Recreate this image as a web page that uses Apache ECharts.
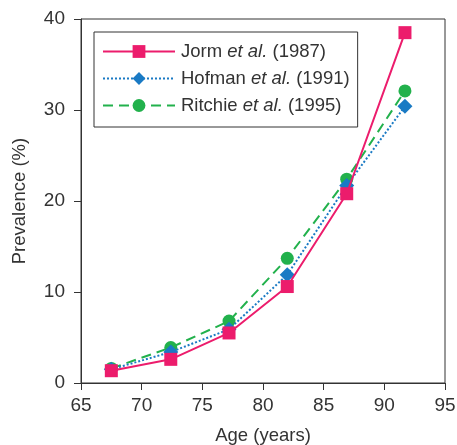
<!DOCTYPE html>
<html>
<head>
<meta charset="utf-8">
<script src="https://cdn.jsdelivr.net/npm/echarts@6/dist/echarts.min.js"></script>
<style>
  html, body { margin: 0; padding: 0; background: #fff; }
  #chart { width: 457px; height: 445px; }
</style>
</head>
<body>
<div id="chart"></div>
<script>
// values: [age, prevalence %]
const jormData = [[67.5, 1.35], [72.4, 2.6], [77.2, 5.5], [82.0, 10.6], [86.9, 20.8], [91.7, 38.5]]
const hofmanData = [[67.5, 1.5], [72.4, 3.4], [77.2, 5.9], [82.0, 11.9], [86.9, 21.7], [91.7, 30.4]]
const ritchieData = [[67.5, 1.6], [72.4, 3.9], [77.2, 6.8], [82.0, 13.7], [86.9, 22.4], [91.7, 32.1]]

const seriesNames = ['Jorm', 'Hofman', 'Ritchie']
const seriesYears = ['1987', '1991', '1995']

const xTicks = { min: 65, max: 95, interval: 5 }
const yTicks = { min: 0, max: 40, interval: 10 }

const font = '"Liberation Sans", Arial, Helvetica, sans-serif'
const textColor = '#333'

const chart = echarts.init(document.getElementById('chart'), null, { renderer: 'canvas' })

chart.setOption({
  animation: false,
  textStyle: { fontFamily: font },
  grid: {
    left: 81,
    right: 12,
    top: 19,
    bottom: 62,
    outerBoundsMode: 'none',
    containLabel: false,
    show: true,
    borderColor: '#333',
    borderWidth: 1
  },
  legend: {
    left: 94,
    top: 32,
    orient: 'vertical',
    data: seriesNames,
    itemWidth: 72,
    itemHeight: 16,
    itemGap: 8,
    padding: [10, 8, 12, 8],
    borderColor: '#333',
    borderWidth: 1,
    formatter: (name) => {
      const i = seriesNames.indexOf(name)
      return name + ' {it|et al.} (' + seriesYears[i] + ')'
    },
    textStyle: {
      fontFamily: font,
      fontSize: 18.5,
      color: textColor,
      padding: [0, 0, 0, 1],
      rich: {
        it: { fontStyle: 'italic', fontFamily: font, fontSize: 18.5, color: textColor }
      }
    }
  },
  xAxis: {
    type: 'value',
    min: xTicks.min,
    max: xTicks.max,
    interval: xTicks.interval,
    name: 'Age (years)',
    nameLocation: 'middle',
    nameGap: 43,
    nameTextStyle: { fontSize: 18.5, color: textColor, fontFamily: font },
    axisLine: { lineStyle: { color: '#333', width: 1 } },
    axisTick: { show: true, inside: false, length: 7, lineStyle: { color: '#333' } },
    axisLabel: { margin: 13, fontSize: 19, color: textColor, fontFamily: font },
    splitLine: { show: false }
  },
  yAxis: {
    type: 'value',
    min: yTicks.min,
    max: yTicks.max,
    interval: yTicks.interval,
    name: 'Prevalence (%)',
    nameLocation: 'middle',
    nameGap: 52,
    nameRotate: 90,
    nameTextStyle: { fontSize: 18.5, color: textColor, fontFamily: font },
    axisLine: { show: true, lineStyle: { color: '#333', width: 1 } },
    axisTick: { show: true, inside: false, length: 7, lineStyle: { color: '#333' } },
    axisLabel: { margin: 16, fontSize: 19, color: textColor, fontFamily: font },
    splitLine: { show: false }
  },
  series: [
    {
      name: 'Ritchie',
      type: 'line',
      data: ritchieData,
      symbol: 'circle',
      symbolSize: 13,
      z: 2,
      itemStyle: { color: '#22B14C' },
      lineStyle: { color: '#22B14C', width: 2, type: [10, 6] }
    },
    {
      name: 'Hofman',
      type: 'line',
      data: hofmanData,
      symbol: 'diamond',
      symbolSize: 15,
      z: 3,
      itemStyle: { color: '#1A7AC4' },
      lineStyle: { color: '#1A7AC4', width: 2, type: [2, 2] }
    },
    {
      name: 'Jorm',
      type: 'line',
      data: jormData,
      symbol: 'rect',
      symbolSize: 13,
      z: 4,
      itemStyle: { color: '#EC1C6C' },
      lineStyle: { color: '#EC1C6C', width: 2 }
    }
  ]
})
</script>
</body>
</html>
